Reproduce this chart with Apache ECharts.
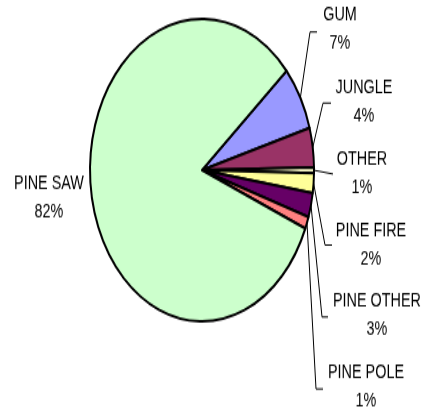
<!DOCTYPE html>
<html>
<head>
<meta charset="utf-8">
<script src="https://cdn.jsdelivr.net/npm/echarts@6/dist/echarts.min.js"></script>
<style>
html,body{margin:0;padding:0;background:#fff;width:422px;height:413px;}
#wrap{position:relative;width:422px;height:413px;}
#c{position:absolute;left:0;top:0;width:422px;height:306px;transform:scaleY(1.35);transform-origin:0 0;}
</style>
</head>
<body>
<div id="wrap"><div id="c"></div></div>
<script>
var categories = ['GUM', 'JUNGLE', 'OTHER', 'PINE FIRE', 'PINE OTHER', 'PINE POLE', 'PINE SAW'];
var values = [6.9, 4.2, 0.6, 2.1, 2.6, 1.3, 82.3];
var colors = ['#9999FF', '#993366', '#FFFFCC', '#FFFF99', '#660066', '#FF8080', '#CCFFCC'];

// label layout (unscaled coordinates): label centre and leader bracket
var labelLayoutPos = [
  {x: 340, y: 21.5, bx: 310, by: 23.7, ex: 317},
  {x: 364, y: 75.6, bx: 323, by: 76.3, ex: 331},
  {x: 362, y: 128.1, bx: null, by: 128.9, ex: 333},
  {x: 371, y: 181.5, bx: 325, by: 181.5, ex: 332},
  {x: 377, y: 234, bx: 322, by: 234.8, ex: 328},
  {x: 366, y: 286.7, bx: 316, by: 288.1, ex: 323},
  {x: 49, y: 146.3, bx: null, by: null, ex: null}
];

var chart = echarts.init(document.getElementById('c'), null, {renderer: 'canvas', width: 422, height: 306});

var data = categories.map(function (name, i) {
  return {
    name: name,
    value: values[i],
    itemStyle: {color: colors[i]},
    labelLine: {show: labelLayoutPos[i].ex !== null}
  };
});

chart.setOption({
  animation: false,
  series: [{
    type: 'pie',
    center: [202, 126],
    radius: [0, 112],
    startAngle: 41,
    clockwise: true,
    percentPrecision: 0,
    avoidLabelOverlap: false,
    silent: true,
    itemStyle: {borderColor: '#000', borderWidth: 2},
    label: {
      show: true,
      formatter: '{b}\n{d}%',
      color: '#000',
      fontFamily: 'Liberation Sans, Arial, sans-serif',
      fontSize: 14.4,
      lineHeight: 21,
      align: 'center'
    },
    labelLine: {
      show: true,
      length: 10,
      length2: 10,
      lineStyle: {color: '#000', width: 1}
    },
    labelLayout: function (params) {
      var p = labelLayoutPos[params.dataIndex];
      var res = {x: p.x, y: p.y, align: 'center', verticalAlign: 'middle'};
      if (p.ex !== null && params.labelLinePoints) {
        var e = params.labelLinePoints[0];
        if (p.bx === null) {
          res.labelLinePoints = [e, [p.ex, p.by]];
        } else {
          res.labelLinePoints = [e, [p.bx, p.by], [p.ex, p.by]];
        }
      }
      return res;
    },
    data: data
  }]
});
</script>
</body>
</html>
